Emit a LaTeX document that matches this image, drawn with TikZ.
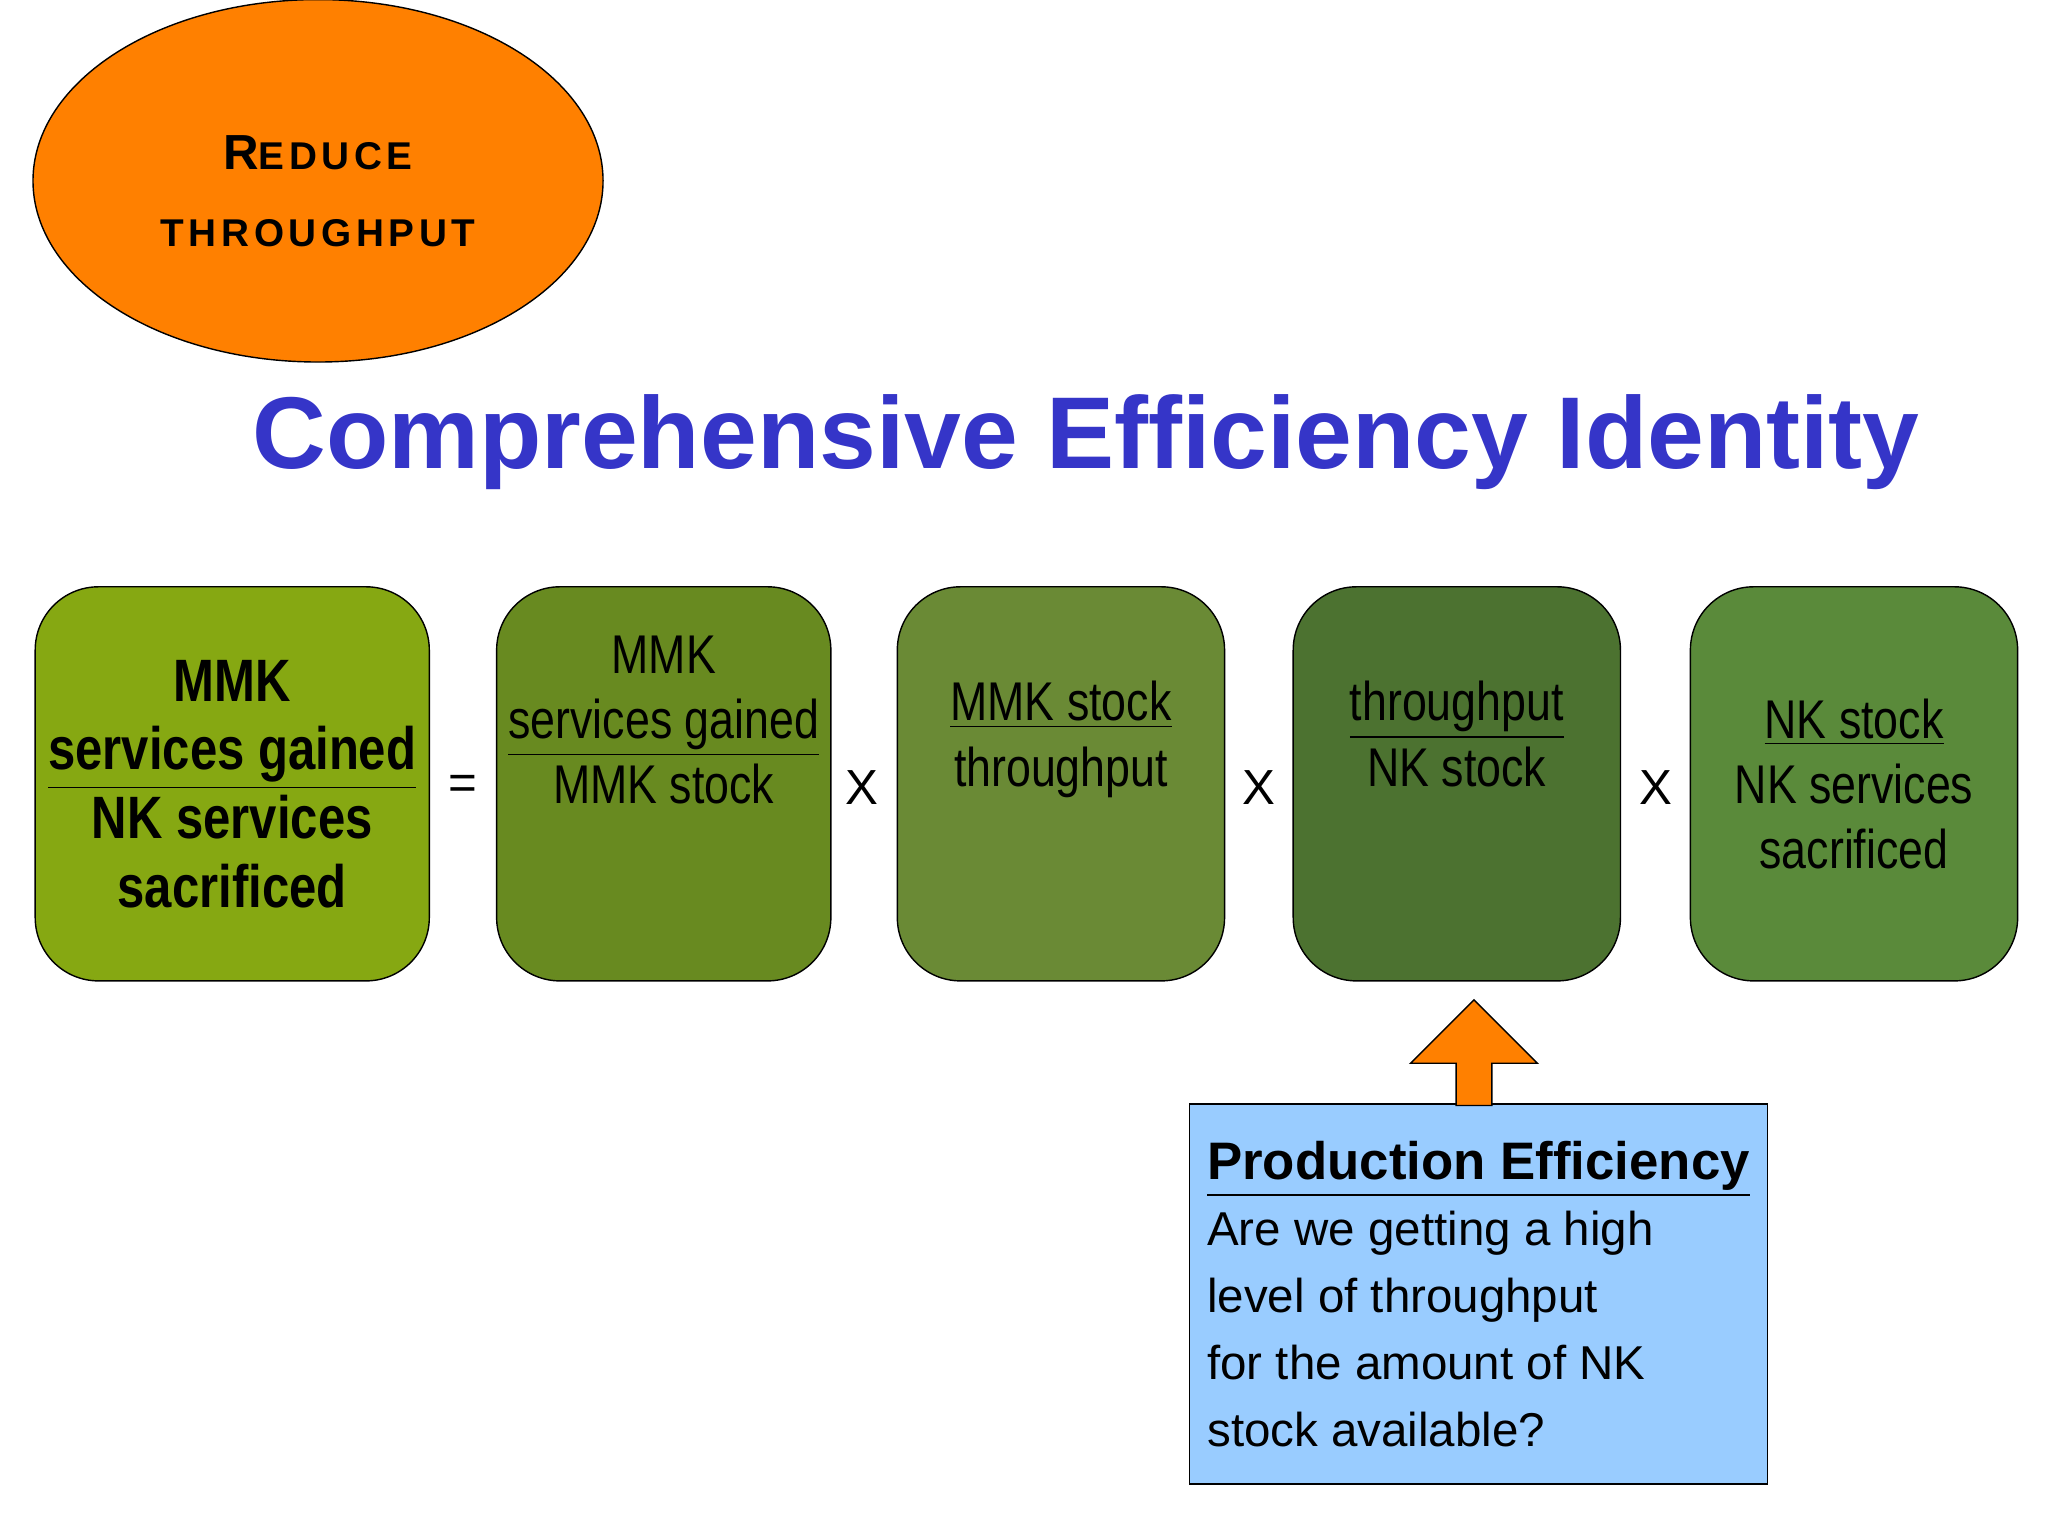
\documentclass[tikz,border=0pt]{standalone}
\usepackage{fontspec}
\setmainfont{Liberation Sans}
\newfontfamily\narrowfont{Liberation Sans}[FakeStretch=0.82]
\usetikzlibrary{shapes.geometric,shapes.arrows}
\definecolor{ovalorange}{HTML}{FF8000}
\definecolor{titleblue}{HTML}{3535C8}
\definecolor{gA}{HTML}{86A812}
\definecolor{gB}{HTML}{688A20}
\definecolor{gC}{HTML}{6A8A35}
\definecolor{gD}{HTML}{4C7230}
\definecolor{gE}{HTML}{5A8A3A}
\definecolor{notebl}{HTML}{99CCFF}
\tikzset{
  factor/.style={draw,rounded corners=18pt,minimum width=93pt,minimum height=112pt,
    align=center,font=\narrowfont\fontsize{15.5}{18.5}\selectfont},
  sign/.style={font=\fontsize{14}{16}\selectfont}
}
\begin{document}
\begin{tikzpicture}[x=0.375pt,y=-0.375pt]
    \useasboundingbox (0,0) rectangle (1552,1164);
    \node[draw,ellipse,fill=ovalorange,minimum width=162pt,minimum height=103pt] (oval) at (241,137){};
    \node[font=\bfseries\fontsize{14}{16}\selectfont,align=center] at (241,145)(ovaltext)
      {\addfontfeature{LetterSpace=12}R{\fontsize{11}{13}\selectfont EDUCE}\\[6pt]
       \addfontfeature{LetterSpace=12}{\fontsize{11}{13}\selectfont THROUGHPUT}};
    \node[font=\bfseries\fontsize{29}{33}\selectfont,text=titleblue] (title) at (823,335){Comprehensive Efficiency Identity};

    \node[factor,fill=gA,minimum width=112pt,font=\narrowfont\bfseries\fontsize{17}{19.5}\selectfont] (gain) at (176,594)
      {MMK\\\underline{services gained}\\NK services\\sacrificed};
    \node[factor,fill=gB] (svc) at (503,594){MMK\\\underline{services gained}\\MMK stock\\[18pt]};
    \node[factor,fill=gC] (stock) at (804,594){\underline{MMK stock}\\throughput\\[10pt]};
    \node[factor,fill=gD] (thru) at (1104,594){\underline{throughput}\\NK stock\\[10pt]};
    \node[factor,fill=gE] (nk) at (1405,594){\underline{NK stock}\\NK services\\sacrificed};

    \node[sign] (eq) at (351,597){=};
    \node[sign] (x1) at (653,597){X};
    \node[sign] (x2) at (954,597){X};
    \node[sign] (x3) at (1255,597){X};

    \node[draw,fill=notebl,minimum width=162pt,minimum height=108pt,anchor=north west,
      align=left,font=\fontsize{13.5}{19}\selectfont,inner sep=5pt] (prod) at (901,836)
      {{\bfseries\fontsize{15}{18}\selectfont\underline{Production Efficiency}}\\
       Are we getting a high\\level of throughput\\for the amount of NK\\stock available?};
    \node[single arrow,draw,fill=ovalorange,shape border rotate=90,minimum width=36pt,
      single arrow head extend=9pt,minimum height=30pt,anchor=tip] (up) at (1117,757){};
\end{tikzpicture}
\end{document}
